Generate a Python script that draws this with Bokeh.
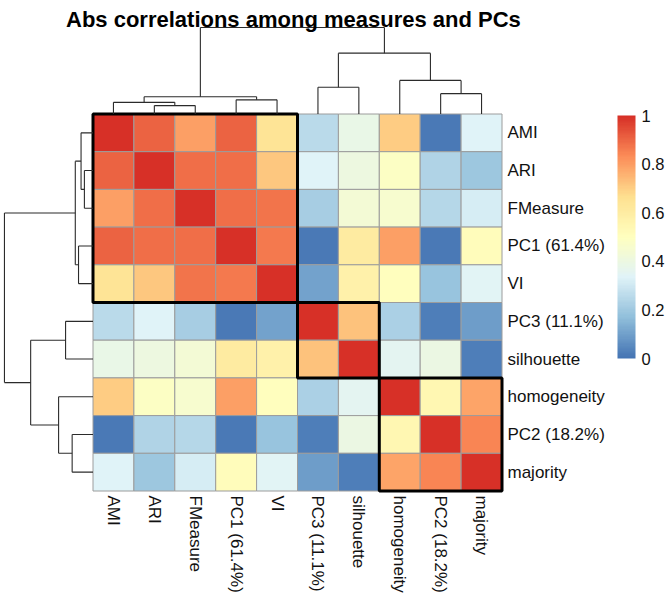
import numpy as np
from bokeh.plotting import figure
from bokeh.models import Range1d, LinearColorMapper, ColorBar, FixedTicker, Label, ColumnDataSource
from bokeh.core.properties import value
from bokeh.embed import file_html
from bokeh.resources import INLINE

# ---------------- data ----------------
labels = ["AMI", "ARI", "FMeasure", "PC1 (61.4%)", "VI", "PC3 (11.1%)",
          "silhouette", "homogeneity", "PC2 (18.2%)", "majority"]

row_AMI   = [1.00, 0.90, 0.79, 0.90, 0.64, 0.25, 0.38, 0.70, 0.01, 0.33]
row_ARI   = [0.90, 1.00, 0.88, 0.88, 0.71, 0.33, 0.40, 0.48, 0.23, 0.19]
row_FMeas = [0.79, 0.88, 1.00, 0.88, 0.87, 0.21, 0.43, 0.45, 0.24, 0.31]
row_PC1   = [0.90, 0.88, 0.88, 1.00, 0.86, 0.01, 0.60, 0.79, 0.01, 0.51]
row_VI    = [0.64, 0.71, 0.87, 0.86, 1.00, 0.10, 0.58, 0.50, 0.18, 0.34]
row_PC3   = [0.25, 0.33, 0.21, 0.01, 0.10, 1.00, 0.72, 0.22, 0.02, 0.09]
row_sil   = [0.38, 0.40, 0.43, 0.60, 0.58, 0.72, 1.00, 0.35, 0.39, 0.02]
row_homog = [0.70, 0.48, 0.45, 0.79, 0.50, 0.22, 0.35, 1.00, 0.54, 0.78]
row_PC2   = [0.01, 0.23, 0.24, 0.01, 0.18, 0.02, 0.39, 0.54, 1.00, 0.84]
row_maj   = [0.33, 0.19, 0.31, 0.51, 0.34, 0.09, 0.02, 0.78, 0.84, 1.00]
abs_corr = [row_AMI, row_ARI, row_FMeas, row_PC1, row_VI,
            row_PC3, row_sil, row_homog, row_PC2, row_maj]

# hierarchical clustering merges (same tree for rows and columns)
merge_a = ["ARI", "AMI", "PC1 (61.4%)", "m1", "PC2 (18.2%)", "PC3 (11.1%)", "homogeneity", "m5", "m3"]
merge_b = ["FMeasure", "m0", "VI", "m2", "majority", "silhouette", "m4", "m6", "m7"]
merge_height = [0.17, 0.236, 0.286, 0.35, 0.412, 0.542, 0.68, 1.232, 1.75]

cluster_sizes = [5, 2, 3]
legend_ticks = [0, 0.2, 0.4, 0.6, 0.8, 1]

title_text = "Abs correlations among measures and PCs"

# ---------------- styling / layout ----------------
FONT = "Liberation Sans"
FIG_W, FIG_H = 669, 595
HM_LEFT, HM_TOP = 92.5, 113.5     # heatmap origin inside the canvas (px)
CELL_W, CELL_H = 40.9, 37.7       # px per cell
COL_TREE_PX = 49.4                # px per unit of merge height
ROW_TREE_PX = 50.6

anchors = ["#4575B4", "#91BFDB", "#E0F3F8", "#FFFFBF", "#FEE090", "#FC8D59", "#D73027"]
def ramp(cols, n):
    rgb = np.array([[int(c[i:i + 2], 16) for i in (1, 3, 5)] for c in cols], float)
    t = np.linspace(0, len(cols) - 1, n)
    out = []
    for v in t:
        k = min(int(np.floor(v)), len(cols) - 2)
        f = v - k
        c = rgb[k] * (1 - f) + rgb[k + 1] * f
        out.append("#%02x%02x%02x" % tuple(int(round(x)) for x in c))
    return out
palette = ramp(anchors, 100)
mapper = LinearColorMapper(palette=palette, low=0, high=1)

n = len(labels)
p = figure(width=FIG_W, height=FIG_H, output_backend="svg", toolbar_location=None,
           x_range=Range1d(-HM_LEFT / CELL_W, (FIG_W - HM_LEFT) / CELL_W),
           y_range=Range1d((FIG_H - HM_TOP) / CELL_H, -HM_TOP / CELL_H),
           x_axis_location=None, y_axis_location=None, min_border=0)
p.grid.visible = False
p.outline_line_color = None
p.background_fill_color = "white"

# heatmap cells
xs, ys, vals = [], [], []
for i in range(n):
    for j in range(n):
        xs.append(j + 0.5)
        ys.append(i + 0.5)
        vals.append(abs_corr[i][j])
src = ColumnDataSource(dict(x=xs, y=ys, val=vals))
p.rect(x="x", y="y", width=1, height=1, source=src,
       fill_color={"field": "val", "transform": mapper},
       line_color="#9C9C9C", line_width=1)

# cluster boxes
edges = np.concatenate([[0], np.cumsum(cluster_sizes)])
p.quad(left=edges[:-1], right=edges[1:], top=edges[:-1], bottom=edges[1:],
       fill_color=None, line_color="black", line_width=3)

# dendrograms
def dendro_segments():
    pos = {lab: k + 0.5 for k, lab in enumerate(labels)}
    hgt = {lab: 0.0 for lab in labels}
    segs = []
    for k, (a, b, h) in enumerate(zip(merge_a, merge_b, merge_height)):
        pa, pb = pos[a], pos[b]
        segs.append((pa, hgt[a], pa, h))
        segs.append((pa, h, pb, h))
        segs.append((pb, hgt[b], pb, h))
        pos["m%d" % k] = (pa + pb) / 2
        hgt["m%d" % k] = h
    return segs

segs = dendro_segments()
# column tree (above)
p.segment(x0=[s[0] for s in segs], y0=[-s[1] * COL_TREE_PX / CELL_H for s in segs],
          x1=[s[2] for s in segs], y1=[-s[3] * COL_TREE_PX / CELL_H for s in segs],
          line_color="#2b2b2b", line_width=1.1)
# row tree (left)
p.segment(y0=[s[0] for s in segs], x0=[-s[1] * ROW_TREE_PX / CELL_W for s in segs],
          y1=[s[2] for s in segs], x1=[-s[3] * ROW_TREE_PX / CELL_W for s in segs],
          line_color="#2b2b2b", line_width=1.1)

# row labels (right)
p.text(x=[n] * n, y=[i + 0.5 for i in range(n)], text=labels, x_offset=5.5,
       text_align="left", text_baseline="middle", text_font=value(FONT),
       text_font_size="17px", text_color="#111111")
# column labels (below, rotated)
p.text(x=[j + 0.5 for j in range(n)], y=[n] * n, text=labels, y_offset=4.5,
       angle=-np.pi / 2, text_align="left", text_baseline="middle",
       text_font=value(FONT), text_font_size="17px", text_color="#111111")

# title
p.add_layout(Label(x=n / 2 - 0.1, y=(18.7 - HM_TOP) / CELL_H, text=title_text,
                   text_align="center", text_baseline="alphabetic",
                   text_font=FONT, text_font_style="bold", text_font_size="22px",
                   text_color="black"))

# colour legend
cb = ColorBar(color_mapper=mapper, ticker=FixedTicker(ticks=legend_ticks),
              major_label_overrides={t: "%g" % t for t in legend_ticks},
              width=18, height=243, location=(617, 237), padding=0, margin=0,
              orientation="vertical", major_tick_line_color=None, minor_tick_line_color=None,
              bar_line_color=None, border_line_color=None, background_fill_alpha=0,
              label_standoff=6, major_label_text_font=FONT,
              major_label_text_font_size="16.5px", major_label_text_color="#111111")
p.add_layout(cb)

open("out.html", "w").write(file_html(p, INLINE))
